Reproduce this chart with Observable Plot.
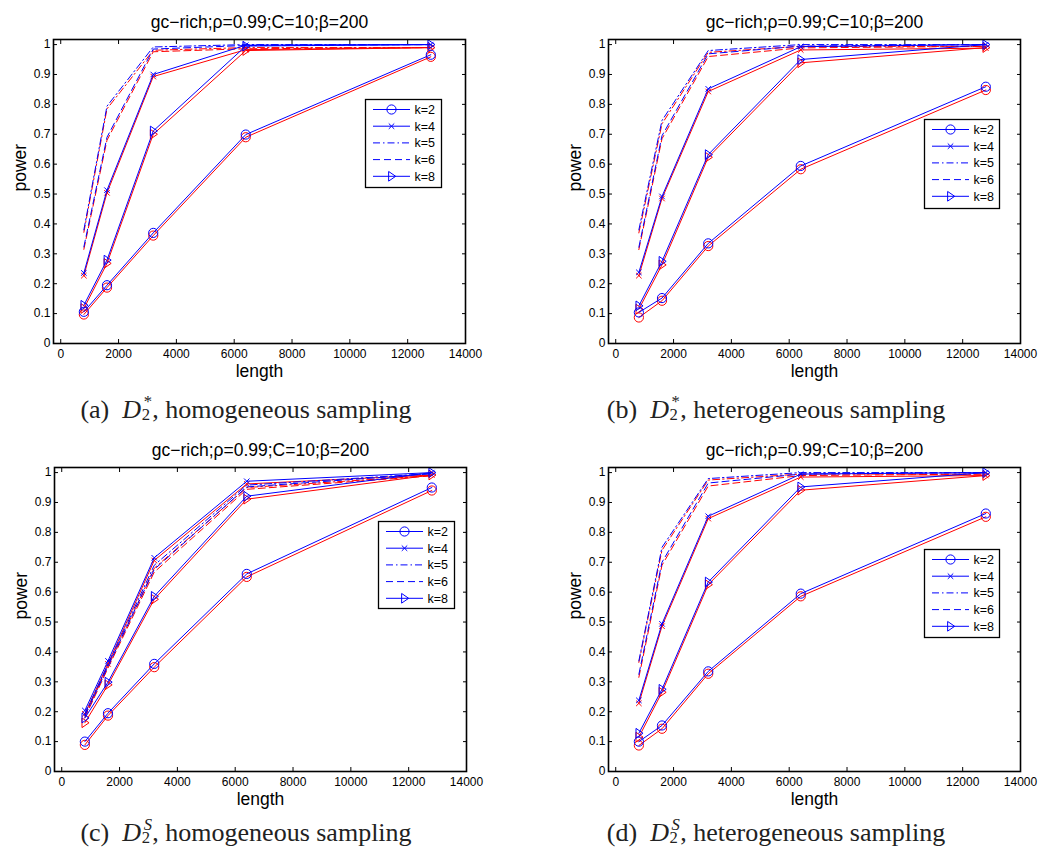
<!DOCTYPE html>
<html><head><meta charset="utf-8">
<script src="https://cdn.jsdelivr.net/npm/d3@7"></script>
<script src="https://cdn.jsdelivr.net/npm/@observablehq/plot@0.6"></script>
<style>
body{margin:0;background:#fff;}
#root{position:relative;width:1039px;height:852px;overflow:hidden;font-family:"Liberation Sans",Arial,sans-serif;background:#fff;}
.panel{position:absolute;}
.cap{position:absolute;font-family:"Liberation Serif","Times New Roman",serif;font-size:26px;line-height:26px;color:#222;white-space:nowrap;transform:translateX(-50%);}
.cap i{font-style:italic;}
.ss{display:inline-block;vertical-align:-0.12em;font-size:0.64em;line-height:0.8;margin-left:0.04em;margin-right:0.02em;}
.ss span{display:block;}
.ss .sp{padding-left:0.12em;}
.leg{position:absolute;}
</style></head><body><div id="root"></div>
<script>
// ---------- data ----------
const lengths = [800, 1600, 3200, 6400, 12800];
const kLabels = ["k=2", "k=4", "k=5", "k=6", "k=8"];
const titleText = "gc\u2212rich;\u03c1=0.99;C=10;\u03b2=200";
const xTicks = [0, 2000, 4000, 6000, 8000, 10000, 12000, 14000];
const yTicks = [0, 0.1, 0.2, 0.3, 0.4, 0.5, 0.6, 0.7, 0.8, 0.9, 1];

// (a) D2*, homogeneous sampling  — rows: k=2,4,5,6,8
const aBlue = [
  [0.106, 0.195, 0.370, 0.699, 0.966],
  [0.236, 0.513, 0.900, 0.998, 1.000],
  [0.380, 0.794, 0.992, 1.000, 1.000],
  [0.323, 0.690, 0.985, 0.997, 1.000],
  [0.128, 0.279, 0.711, 0.995, 1.000]
];
const aRed = [
  [0.097, 0.187, 0.361, 0.690, 0.959],
  [0.227, 0.504, 0.893, 0.983, 0.990],
  [0.372, 0.785, 0.981, 0.990, 0.990],
  [0.315, 0.680, 0.976, 0.986, 0.990],
  [0.117, 0.268, 0.700, 0.980, 0.990]
];
// (b) D2*, heterogeneous sampling
const bBlue = [
  [0.104, 0.152, 0.335, 0.594, 0.859],
  [0.238, 0.492, 0.852, 0.993, 1.000],
  [0.380, 0.746, 0.980, 1.000, 1.000],
  [0.322, 0.695, 0.969, 0.995, 1.000],
  [0.126, 0.275, 0.632, 0.950, 1.000]
];
const bRed = [
  [0.087, 0.143, 0.326, 0.583, 0.848],
  [0.227, 0.485, 0.843, 0.982, 0.988],
  [0.370, 0.735, 0.974, 0.994, 0.994],
  [0.314, 0.685, 0.960, 0.989, 0.994],
  [0.115, 0.263, 0.623, 0.939, 0.990]
];
// (c) D2S, homogeneous sampling
const cBlue = [
  [0.100, 0.195, 0.360, 0.661, 0.950],
  [0.204, 0.370, 0.715, 0.971, 1.000],
  [0.192, 0.358, 0.690, 0.958, 0.997],
  [0.186, 0.352, 0.676, 0.952, 0.996],
  [0.179, 0.299, 0.586, 0.921, 1.000]
];
const cRed = [
  [0.089, 0.187, 0.349, 0.651, 0.940],
  [0.193, 0.360, 0.706, 0.962, 0.992],
  [0.186, 0.352, 0.680, 0.950, 0.990],
  [0.180, 0.346, 0.667, 0.944, 0.989],
  [0.163, 0.290, 0.576, 0.911, 0.992]
];
// (d) D2S, heterogeneous sampling
const dBlue = [
  [0.100, 0.154, 0.335, 0.595, 0.863],
  [0.238, 0.494, 0.854, 0.995, 1.000],
  [0.370, 0.750, 0.980, 1.000, 1.000],
  [0.325, 0.700, 0.965, 0.995, 1.000],
  [0.128, 0.275, 0.634, 0.952, 1.000]
];
const dRed = [
  [0.087, 0.143, 0.327, 0.586, 0.852],
  [0.228, 0.486, 0.846, 0.985, 0.990],
  [0.365, 0.740, 0.975, 0.995, 0.995],
  [0.315, 0.690, 0.955, 0.990, 0.995],
  [0.115, 0.265, 0.625, 0.941, 0.990]
];

// ---------- styles ----------
const BLUE = "#0000ff", RED = "#ff0000";
const triRight = {
  draw(ctx, size) {
    const r = Math.sqrt(size / Math.PI);
    ctx.moveTo(r * 0.95, 0);
    ctx.lineTo(-r * 0.65, -r * 1.1);
    ctx.lineTo(-r * 0.65, r * 1.1);
    ctx.closePath();
  }
};
const kStyle = {
  "k=2": {dash: null, symbol: "circle", r: 4.6},
  "k=4": {dash: null, symbol: "times", r: 2.6},
  "k=5": {dash: "7,3,1.5,3", symbol: null},
  "k=6": {dash: "7,4", symbol: null},
  "k=8": {dash: null, symbol: triRight, r: 4.4}
};

function tidy(rows, color) {
  const out = [];
  rows.forEach((vals, i) => vals.forEach((v, j) => out.push({k: kLabels[i], length: lengths[j], power: v, color})));
  return out;
}

function makePanel(blue, red) {
  const marks = [];
  for (const [rows, col] of [[red, RED], [blue, BLUE]]) {
    const data = tidy(rows, col);
    for (const k of kLabels) {
      const s = kStyle[k];
      const sub = data.filter(d => d.k === k);
      marks.push(Plot.line(sub, {x: "length", y: "power", stroke: col, strokeWidth: 1, strokeDasharray: s.dash}));
      if (s.symbol) marks.push(Plot.dot(sub, {x: "length", y: "power", stroke: col, fill: "none", strokeWidth: 1, symbol: s.symbol, r: s.r}));
    }
  }
  return Plot.plot({
    width: 484, height: 390,
    marginLeft: 53, marginRight: 19, marginTop: 39, marginBottom: 47,
    style: {fontFamily: "'Liberation Sans', Arial, sans-serif", background: "transparent", color: "#000", overflow: "visible"},
    x: {domain: [-250, 14000]},
    y: {domain: [0, 1.017]},
    marks: [
      ...marks,
      Plot.axisX({ticks: xTicks, tickSize: -4, tickPadding: 10, tickFormat: d => String(d), fontSize: 12, label: null}),
      Plot.axisX({anchor: "top", ticks: xTicks, tickSize: -4, tickFormat: () => "", label: null}),
      Plot.axisY({ticks: yTicks, tickSize: -4, tickPadding: 7, tickFormat: d => String(d), fontSize: 12, label: null}),
      Plot.axisY({anchor: "right", ticks: yTicks, tickSize: -4, tickFormat: () => "", label: null}),
      Plot.frame({stroke: "#000", strokeWidth: 1.6}),
      Plot.text([titleText], {text: d => d, frameAnchor: "top", dy: -12, lineAnchor: "bottom", fontSize: 17.5, fill: "#000"}),
      Plot.text(["length"], {text: d => d, frameAnchor: "bottom", dy: 33, lineAnchor: "bottom", fontSize: 17.5, fill: "#000"}),
      Plot.text(["power"], {text: d => d, frameAnchor: "left", dx: -28, rotate: -90, lineAnchor: "bottom", fontSize: 17.5, fill: "#000"})
    ]
  });
}

function makeLegend(w, h) {
  const svg = d3.create("svg").attr("width", w + 2).attr("height", h + 2)
    .attr("style", "font-family:'Liberation Sans',Arial,sans-serif;overflow:visible");
  svg.append("rect").attr("x", 0.5).attr("y", 0.5).attr("width", w).attr("height", h)
    .attr("fill", "#fff").attr("stroke", "#000").attr("stroke-width", 1.3);
  kLabels.forEach((k, i) => {
    const y = 10.5 + i * 16.7;
    const s = kStyle[k];
    svg.append("line").attr("x1", 8).attr("x2", 45).attr("y1", y).attr("y2", y)
      .attr("stroke", BLUE).attr("stroke-width", 1).attr("stroke-dasharray", s.dash);
    if (s.symbol) {
      const type = s.symbol === "circle" ? d3.symbolCircle : s.symbol === "times" ? d3.symbolTimes : s.symbol;
      svg.append("path").attr("transform", `translate(26.5,${y})`)
        .attr("d", d3.symbol(type, s.r * s.r * Math.PI)())
        .attr("fill", "none").attr("stroke", BLUE).attr("stroke-width", 1);
    }
    svg.append("text").attr("x", 49.5).attr("y", y).attr("dy", "0.36em")
      .attr("font-size", 12.5).attr("fill", "#000").text(k);
  });
  return svg.node();
}

const root = document.getElementById("root");
const panels = [
  {blue: aBlue, red: aRed, left: 0, top: 0, leg: [365, 99, 76, 88]},
  {blue: bBlue, red: bRed, left: 555, top: 0, leg: [924, 119, 75, 89]},
  {blue: cBlue, red: cRed, left: 1, top: 428, leg: [378, 521, 76, 87]},
  {blue: dBlue, red: dRed, left: 555, top: 428, leg: [924, 549, 75, 88]}
];
panels.forEach(p => {
  const div = document.createElement("div");
  div.className = "panel";
  div.style.left = p.left + "px";
  div.style.top = p.top + "px";
  div.appendChild(makePanel(p.blue, p.red));
  root.appendChild(div);
  const lg = document.createElement("div");
  lg.className = "leg";
  lg.style.left = p.leg[0] + "px";
  lg.style.top = p.leg[1] + "px";
  lg.appendChild(makeLegend(p.leg[2], p.leg[3]));
  root.appendChild(lg);
});

const captions = [
  {label: "(a)", sup: "*", text: ", homogeneous sampling", x: 246, top: 395},
  {label: "(b)", sup: "*", text: ", heterogeneous sampling", x: 776, top: 395},
  {label: "(c)", sup: "S", text: ", homogeneous sampling", x: 246, top: 818},
  {label: "(d)", sup: "S", text: ", heterogeneous sampling", x: 776, top: 818}
];
captions.forEach(c => {
  const d = document.createElement("div");
  d.className = "cap";
  d.style.left = c.x + "px";
  d.style.top = c.top + "px";
  const supHtml = c.sup === "S" ? "<i>S</i>" : "*";
  d.innerHTML = `${c.label}&nbsp; <i>D</i><span class="ss"><span class="sp">${supHtml}</span><span class="sb">2</span></span>${c.text}`;
  root.appendChild(d);
});
</script>
</body></html>
